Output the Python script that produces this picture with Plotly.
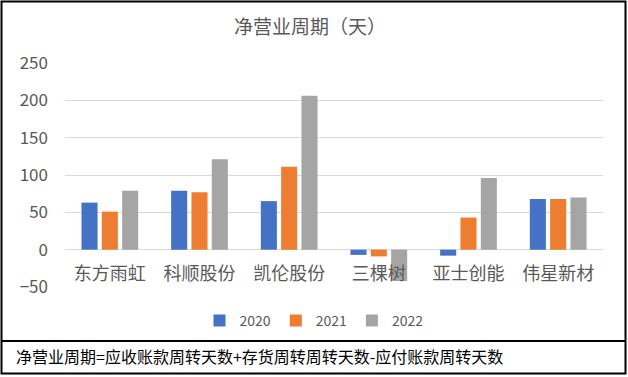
import plotly.graph_objects as go

categories = ["东方雨虹", "科顺股份", "凯伦股份", "三棵树", "亚士创能", "伟星新材"]
series_names = ["2020", "2021", "2022"]
values_2020 = [63, 79, 65, -7, -8, 68]
values_2021 = [51, 77, 111, -9, 43, 68]
values_2022 = [79, 121, 206, -42, 96, 70]
colors = ["#4472C4", "#ED7D31", "#A5A5A5"]
title_text = "净营业周期（天）"
footnote = "净营业周期=应收账款周转天数+存货周转周转天数-应付账款周转天数"

W, H = 628, 377
L, R, T, B = 65, 25, 63, 90
PW, PH = W - L - R, H - T - B


def px_x(px):
    return (px - L) / PW


def px_y(py):
    return (H - B - py) / PH


FONT = "Noto Sans CJK SC, Noto Sans, sans-serif"
GREY = "#595959"

fig = go.Figure()
for name, vals, col in zip(series_names, [values_2020, values_2021, values_2022], colors):
    fig.add_trace(go.Bar(x=categories, y=vals, name=name, marker=dict(color=col, line=dict(width=0))))

fig.update_layout(
    width=W, height=H,
    margin=dict(l=L, r=R, t=T, b=B),
    paper_bgcolor="white", plot_bgcolor="white",
    barmode="group", bargap=0.32, bargroupgap=0.21,
    font=dict(family=FONT, color=GREY),
    title=dict(text=title_text, x=px_x(310), xref="paper", xanchor="center",
               y=1 - 27.5 / H, yref="container", yanchor="middle",
               font=dict(size=19, color=GREY, family=FONT)),
    legend=dict(orientation="h", x=px_x(314), xanchor="center", y=px_y(321), yanchor="middle",
                font=dict(size=14, color=GREY, family=FONT), itemwidth=30, traceorder="normal"),
    xaxis=dict(anchor="free", position=50 / 300, showline=False, showgrid=False, ticks="",
               tickfont=dict(size=18, color=GREY, family=FONT), ticklabelstandoff=11),
    yaxis=dict(range=[-50, 250], dtick=50, tick0=0, showgrid=True, gridcolor="#D9D9D9", gridwidth=1,
               zeroline=True, zerolinecolor="#D9D9D9", zerolinewidth=1, showline=False, ticks="",
               tickfont=dict(size=17, color=GREY, family=FONT), ticklabelstandoff=16),
    showlegend=True,
)

# outer frame and separator line
fig.add_shape(type="rect", xref="paper", yref="paper",
              x0=px_x(1.5), x1=px_x(625.5), y0=px_y(1.5), y1=px_y(373.5),
              line=dict(color="black", width=2), fillcolor="rgba(0,0,0,0)", layer="above")
fig.add_shape(type="line", xref="paper", yref="paper",
              x0=px_x(1.5), x1=px_x(625.5), y0=px_y(341), y1=px_y(341),
              line=dict(color="black", width=2), layer="above")

fig.add_annotation(text=footnote, xref="paper", yref="paper", x=px_x(14), y=px_y(355.5),
                   xanchor="left", yanchor="middle", showarrow=False,
                   font=dict(size=16, color="black", family=FONT))

fig.write_html("out.html", config={"displayModeBar": False},
               post_script="document.body.style.margin='0';")
